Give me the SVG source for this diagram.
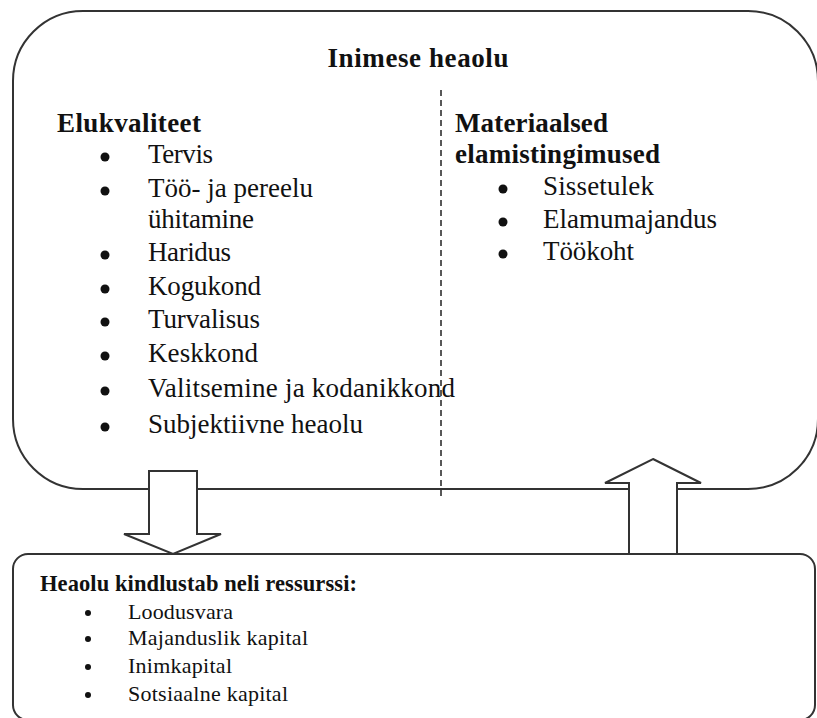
<svg xmlns="http://www.w3.org/2000/svg" width="817" height="718" viewBox="0 0 817 718">
<style>
.box{fill:#fff;stroke:#333;stroke-width:2}
.arrow{fill:#fff;stroke:#333;stroke-width:2;stroke-linejoin:miter}
.dash{stroke:#222;stroke-width:1.5;stroke-dasharray:6,4;fill:none}
.t{font-family:"Liberation Serif","Times New Roman","DejaVu Serif",serif;fill:#111}
.h{font-size:27px;font-weight:bold}
.r{font-size:27px}
.hs{font-size:22.5px;font-weight:bold}
.rs{font-size:22px}
.b{fill:#111}
</style>
<rect width="817" height="718" fill="#fff"/>
<g id="wellbeing">
<rect class="box" x="13" y="11" width="805" height="478" rx="70" ry="70"/>
<text class="t h" x="418" y="67" text-anchor="middle" textLength="181">Inimese heaolu</text>
<text class="t h" x="57" y="132" textLength="144">Elukvaliteet</text>
<g class="b">
<circle cx="105" cy="157" r="4.5"/><circle cx="105" cy="191" r="4.5"/><circle cx="105" cy="255" r="4.5"/><circle cx="105" cy="289" r="4.5"/><circle cx="105" cy="322" r="4.5"/><circle cx="105" cy="356" r="4.5"/><circle cx="105" cy="391" r="4.5"/><circle cx="105" cy="427" r="4.5"/>
</g>
<text class="t r" x="148" y="163" textLength="65">Tervis</text>
<text class="t r" x="148" y="197" textLength="165">Töö- ja pereelu</text>
<text class="t r" x="148" y="228" textLength="106">ühitamine</text>
<text class="t r" x="148" y="261" textLength="83">Haridus</text>
<text class="t r" x="148" y="295" textLength="113">Kogukond</text>
<text class="t r" x="148" y="328" textLength="112">Turvalisus</text>
<text class="t r" x="148" y="362" textLength="110">Keskkond</text>
<text class="t r" x="148" y="397" textLength="307">Valitsemine ja kodanikkond</text>
<text class="t r" x="148" y="433" textLength="215">Subjektiivne heaolu</text>
<text class="t h" x="455" y="132" textLength="153">Materiaalsed</text>
<text class="t h" x="455" y="163" textLength="205">elamistingimused</text>
<g class="b">
<circle cx="503" cy="189" r="4.5"/><circle cx="503" cy="222" r="4.5"/><circle cx="503" cy="254" r="4.5"/>
</g>
<text class="t r" x="543" y="195" textLength="111">Sissetulek</text>
<text class="t r" x="543" y="228" textLength="174">Elamumajandus</text>
<text class="t r" x="543" y="260" textLength="91">Töökoht</text>
</g>
<g id="resources">
<rect class="box" x="13" y="554" width="802" height="166" rx="15" ry="15"/>
<text class="t hs" x="40" y="591" textLength="317">Heaolu kindlustab neli ressurssi:</text>
<g class="b">
<circle cx="88" cy="613" r="3"/><circle cx="88" cy="639" r="3"/><circle cx="88" cy="667" r="3"/><circle cx="88" cy="695" r="3"/>
</g>
<text class="t rs" x="128" y="619" textLength="105">Loodusvara</text>
<text class="t rs" x="128" y="645" textLength="180">Majanduslik kapital</text>
<text class="t rs" x="128" y="673" textLength="104">Inimkapital</text>
<text class="t rs" x="128" y="701" textLength="160">Sotsiaalne kapital</text>
</g>
<g id="connectors">
<line class="dash" x1="441" y1="90" x2="441" y2="497"/>
<polygon class="arrow" points="149,471 197,471 197,534 221,534 173,554 124,534 149,534"/>
<polygon class="arrow" points="653,459 701,483 677,483 677,554 629,554 629,483 605,483"/>
</g>
</svg>
